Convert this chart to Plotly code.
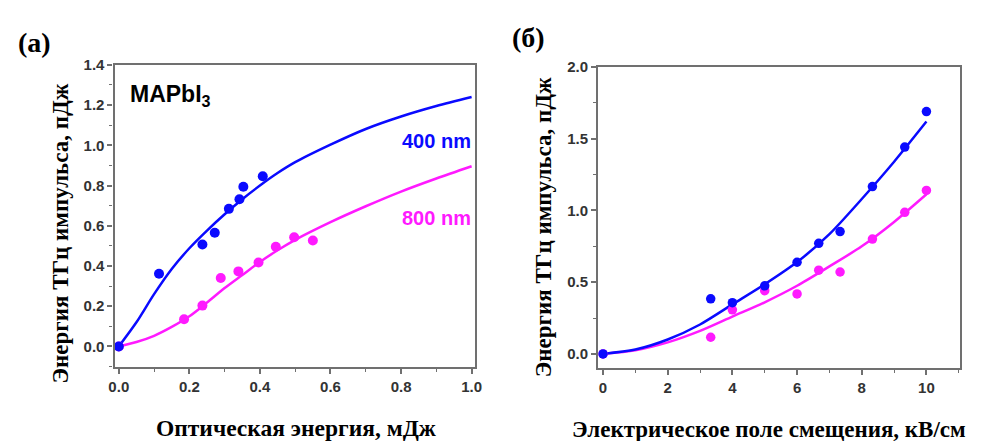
import plotly.graph_objects as go

W, H = 995, 441

# ---------- Panel (a) data ----------
a_blue_x = [0.0, 0.114, 0.237, 0.272, 0.312, 0.342, 0.353, 0.408]
a_blue_y = [0.0, 0.361, 0.507, 0.565, 0.684, 0.732, 0.794, 0.846]
a_mag_x = [0.0, 0.185, 0.237, 0.289, 0.339, 0.396, 0.445, 0.497, 0.550]
a_mag_y = [0.0, 0.135, 0.203, 0.340, 0.373, 0.417, 0.496, 0.543, 0.527]

a_fit_x = [0.0, 0.05, 0.1, 0.15, 0.2, 0.25, 0.3, 0.35, 0.4, 0.45, 0.5, 0.6, 0.7, 0.8, 0.9, 1.0]
a_fit_blue = [0.0, 0.120, 0.260, 0.385, 0.488, 0.576, 0.657, 0.732, 0.800, 0.862, 0.916, 1.003, 1.081, 1.143, 1.195, 1.240]
a_fit_mag = [0.0, 0.022, 0.053, 0.097, 0.150, 0.218, 0.290, 0.355, 0.420, 0.478, 0.530, 0.618, 0.697, 0.770, 0.835, 0.896]

# ---------- Panel (b) data ----------
b_x = [0.0, 3.33, 4.0, 5.0, 6.0, 6.67, 7.33, 8.33, 9.33, 10.0]
b_blue_y = [0.0, 0.384, 0.357, 0.475, 0.639, 0.771, 0.853, 1.167, 1.442, 1.690]
b_mag_y = [0.0, 0.116, 0.307, 0.441, 0.418, 0.584, 0.571, 0.801, 0.987, 1.140]

b_fit_x = [0, 1, 2, 3, 4, 5, 6, 7, 8, 9, 10]
b_fit_blue = [0.0, 0.03, 0.10, 0.205, 0.345, 0.485, 0.640, 0.835, 1.080, 1.340, 1.620]
b_fit_mag = [0.0, 0.025, 0.08, 0.16, 0.26, 0.36, 0.475, 0.61, 0.75, 0.92, 1.113]

BLUE = "#0a0aff"
MAG = "#ff1aff"

fig = go.Figure()

# panel a
fig.add_trace(go.Scatter(x=a_fit_x, y=a_fit_mag, mode="lines", line=dict(color=MAG, width=2.5, shape="spline", smoothing=0.8),
                         xaxis="x", yaxis="y", showlegend=False))
fig.add_trace(go.Scatter(x=a_fit_x, y=a_fit_blue, mode="lines", line=dict(color=BLUE, width=2.5, shape="spline", smoothing=0.8),
                         xaxis="x", yaxis="y", showlegend=False))
fig.add_trace(go.Scatter(x=a_mag_x, y=a_mag_y, mode="markers", marker=dict(color=MAG, size=10),
                         xaxis="x", yaxis="y", showlegend=False))
fig.add_trace(go.Scatter(x=a_blue_x, y=a_blue_y, mode="markers", marker=dict(color=BLUE, size=10),
                         xaxis="x", yaxis="y", showlegend=False))

# panel b
fig.add_trace(go.Scatter(x=b_fit_x, y=b_fit_mag, mode="lines", line=dict(color=MAG, width=2.5, shape="spline", smoothing=0.8),
                         xaxis="x2", yaxis="y2", showlegend=False))
fig.add_trace(go.Scatter(x=b_fit_x, y=b_fit_blue, mode="lines", line=dict(color=BLUE, width=2.5, shape="spline", smoothing=0.8),
                         xaxis="x2", yaxis="y2", showlegend=False))
fig.add_trace(go.Scatter(x=b_x, y=b_mag_y, mode="markers", marker=dict(color=MAG, size=9.5),
                         xaxis="x2", yaxis="y2", showlegend=False))
fig.add_trace(go.Scatter(x=b_x, y=b_blue_y, mode="markers", marker=dict(color=BLUE, size=9.5),
                         xaxis="x2", yaxis="y2", showlegend=False))

FRAME = "#707070"
tickfont = dict(family="Arial, Liberation Sans, sans-serif", size=15, color="#333333", weight="bold")


def ax(domain, rng, dtick, minor_dtick, fmt, anchor):
    return dict(domain=domain, range=rng, dtick=dtick, tick0=0, tickformat=fmt,
                showline=True, mirror=True, linecolor=FRAME, linewidth=2.2,
                ticks="outside", ticklen=5, tickwidth=1.5, tickcolor=FRAME,
                minor=dict(ticks="outside", ticklen=3, tickwidth=1.2, tickcolor=FRAME, dtick=minor_dtick, showgrid=False),
                showgrid=False, zeroline=False, tickfont=tickfont, anchor=anchor, fixedrange=True)


def px_x(x):
    return x / W


def px_y(y):
    return 1 - y / H


fig.update_layout(
    width=W, height=H, margin=dict(l=0, r=0, t=0, b=0),
    paper_bgcolor="white", plot_bgcolor="white",
    xaxis=ax([px_x(110), px_x(475)], [-0.012, 1.009], 0.2, 0.1, ".1f", "y"),
    yaxis=ax([px_y(365), px_y(57)], [-0.1, 1.4], 0.2, 0.1, ".1f", "x"),
    xaxis2=ax([px_x(600), px_x(966.7)], [-0.15, 11.04], 2, 1, "d", "y2"),
    yaxis2=ax([px_y(366.7), px_y(59.3)], [-0.1, 2.0], 0.5, 0.25, ".1f", "x2"),
)

serif = dict(family="Times New Roman, Liberation Serif, serif", color="black", weight="bold")
sans = dict(family="Arial, Liberation Sans, sans-serif", weight="bold")

annotations = [
    dict(text="(a)", x=px_x(28.5), y=px_y(34.5), font=dict(size=28, **serif)),
    dict(text="(б)", x=px_x(529), y=px_y(29), font=dict(size=28, **serif)),
    dict(text="Энергия ТГц импульса, пДж", x=px_x(55), y=px_y(229), textangle=-90, font=dict(size=23, **serif)),
    dict(text="Энергия ТГц импульса, пДж", x=px_x(545), y=px_y(223), textangle=-90, font=dict(size=23, **serif)),
    dict(text="Оптическая энергия, мДж", x=px_x(293.5), y=px_y(428), font=dict(size=23.5, **serif)),
    dict(text="Электрическое поле смещения, кВ/см", x=px_x(773), y=px_y(429), font=dict(size=23, **serif)),
    dict(text="MAPbI<sub>3</sub>", x=px_x(124), y=px_y(88), xanchor="left", font=dict(size=23, color="black", **sans)),
    dict(text="400 nm", x=px_x(473), y=px_y(134.3), xanchor="right", font=dict(size=20, color=BLUE, **sans)),
    dict(text="800 nm", x=px_x(473), y=px_y(213.3), xanchor="right", font=dict(size=20, color=MAG, **sans)),
]
for a in annotations:
    a.setdefault("xanchor", "center")
    a.update(xref="paper", yref="paper", yanchor="middle", showarrow=False)
fig.update_layout(annotations=annotations)

fig.write_html("out.html")
